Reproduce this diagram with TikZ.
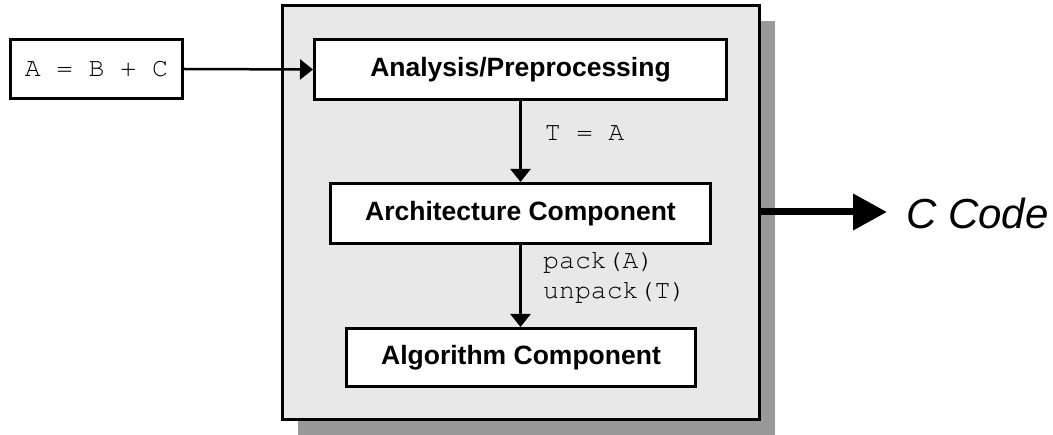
\documentclass[tikz,border=0pt]{standalone}
\usepackage{fontspec}
\setmainfont{Liberation Sans}
\setmonofont{texgyrecursor-regular.otf}
\usetikzlibrary{arrows.meta,shadows}
\definecolor{framegray}{HTML}{E8E8E8}
\definecolor{shadowgray}{HTML}{999999}
\tikzset{
  box/.style={draw=black,fill=white,line width=3pt,inner sep=0pt,
    font=\fontsize{26.5}{30}\selectfont\bfseries},
  code/.style={font=\fontsize{26.5}{30}\selectfont\ttfamily,inner sep=0pt},
  flow/.style={line width=2.5pt,-{Triangle[length=13pt,width=20pt]}}
}
\begin{document}
\begin{tikzpicture}[x=1pt,y=-1pt]
   \useasboundingbox (0,0) rectangle (1053,435);

   % frame with its shadow
   \node (frame) [draw=black,fill=framegray,line width=3pt,
      minimum width=477pt,minimum height=414pt,
      drop shadow={shadow xshift=16pt,shadow yshift=-15pt,
      fill=shadowgray,opacity=1}] at (520.5,213) {};

   \node (input) [box,font=\fontsize{26.5}{30}\selectfont\ttfamily,
      minimum width=172pt,minimum height=59pt] at (96.5,69) {A = B + C};
   \node (analysis) [box,minimum width=412pt,minimum height=60pt]
      at (520.5,69.5) {Analysis/Preprocessing};
   \node (arch) [box,minimum width=380pt,minimum height=60pt]
      at (520.5,213.5) {Architecture Component};
   \node (algo) [box,minimum width=349pt,minimum height=58pt]
      at (521,357.5) {Algorithm Component};

   \draw[flow] (input.east) -- (analysis.west);
   \draw[flow] (analysis.south) -- (arch.north);
   \draw[flow] (arch.south) -- (arch.south |- algo.north);

   \node (tlabel) [code] at (584.5,133) {T = A};
   \node (plabel) [code,anchor=west,align=left] at (543,278)
      {pack(A)\\[0pt]unpack(T)};

   % output
   \coordinate (out) at (887,212);
   \draw[line width=7pt,-{Triangle[length=34pt,width=35pt]}]
      (frame.east |- out) -- (out);
   \node (ccode) [anchor=west,inner sep=0pt,
      font=\fontsize{42}{48}\selectfont\itshape] at (906,214) {C Code};
\end{tikzpicture}
\end{document}
